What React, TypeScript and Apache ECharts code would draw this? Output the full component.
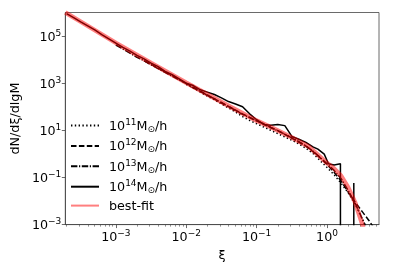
import React, { useEffect, useRef } from 'react';
import * as echarts from 'echarts';

// axis extents in log10 units
const X_MIN = -3.718;
const X_MAX = 0.738;
const Y_MIN = -3;
const Y_MAX = 6;

const xMajorExp = [-3, -2, -1, 0];
const yMajorExp = [-3, -1, 1, 3, 5];

// best-fit curve: log10(xi), log10(dN/dxi/dlgM)
const fitLogXi = [-3.718, -3.5, -3.0, -2.5, -2.0, -1.5, -1.0, -0.75, -0.5, -0.25, 0.0, 0.1, 0.2, 0.3, 0.4, 0.5, 0.56];
const fitLogN = [6.0, 5.61, 4.71, 3.86, 3.02, 2.2, 1.41, 1.07, 0.7, 0.29, -0.39, -0.62, -0.93, -1.42, -2.07, -2.98, -3.6];

// null = empty bin (zero count)
const m14LogXi = [-3.7, -3.6, -3.5, -3.4, -3.3, -3.2, -3.1, -3.0, -2.9, -2.8, -2.7, -2.6, -2.5, -2.4, -2.3, -2.2, -2.1, -2.0, -1.9, -1.8, -1.7, -1.6, -1.5, -1.4, -1.3, -1.2, -1.1, -1.0, -0.9, -0.8, -0.7, -0.6, -0.5, -0.4, -0.3, -0.2, -0.13, -0.04, 0.02, 0.1, 0.19, 0.29, 0.38, 0.47];
const m14LogN = [5.95, 5.78, 5.6, 5.43, 5.26, 5.06, 4.88, 4.7, 4.52, 4.36, 4.18, 4.03, 3.85, 3.7, 3.5, 3.36, 3.18, 3.0, 2.9, 2.72, 2.62, 2.52, 2.38, 2.22, 2.12, 2.0, 1.7, 1.45, 1.25, 1.22, 1.25, 1.2, 0.74, 0.62, 0.49, 0.3, 0.2, -0.01, -0.42, -0.47, -0.42, null, -1.23, null];

const m13LogXi = [-3.0, -2.9, -2.8, -2.7, -2.6, -2.5, -2.4, -2.3, -2.2, -2.1, -2.0, -1.9, -1.8, -1.7, -1.6, -1.5, -1.4, -1.3, -1.2, -1.1, -1.0, -0.9, -0.8, -0.7, -0.6, -0.5, -0.4, -0.3, -0.2, -0.1, 0.0, 0.1, 0.2, 0.3, 0.4, 0.5, 0.6];
const m13LogN = [4.62, 4.45, 4.28, 4.1, 3.96, 3.78, 3.62, 3.46, 3.3, 3.14, 2.98, 2.8, 2.66, 2.48, 2.34, 2.16, 2.02, 1.84, 1.68, 1.54, 1.4, 1.28, 1.12, 0.98, 0.84, 0.68, 0.52, 0.34, 0.12, -0.15, -0.42, -0.7, -1.05, -1.55, -2.1, -2.75, -3.4];

const m12LogXi = [-2.6, -2.5, -2.4, -2.3, -2.2, -2.1, -2.0, -1.9, -1.8, -1.7, -1.6, -1.5, -1.4, -1.3, -1.2, -1.1, -1.0, -0.9, -0.8, -0.7, -0.6, -0.5, -0.4, -0.3, -0.2, -0.1, 0.0, 0.1, 0.2, 0.3, 0.4, 0.5, 0.6, 0.7];
const m12LogN = [3.95, 3.8, 3.64, 3.47, 3.33, 3.15, 2.99, 2.83, 2.65, 2.5, 2.33, 2.18, 2.01, 1.86, 1.7, 1.55, 1.4, 1.26, 1.12, 0.99, 0.83, 0.67, 0.5, 0.33, 0.1, -0.16, -0.45, -0.78, -1.15, -1.62, -2.05, -2.45, -2.85, -3.3];

const m11LogXi = [-2.0, -1.9, -1.8, -1.7, -1.6, -1.5, -1.4, -1.3, -1.2, -1.1, -1.0, -0.9, -0.8, -0.7, -0.6, -0.5, -0.4, -0.3, -0.2, -0.1, 0.0, 0.1, 0.2, 0.3, 0.4, 0.5, 0.58];
const m11LogN = [2.95, 2.8, 2.62, 2.45, 2.3, 2.12, 1.95, 1.78, 1.58, 1.42, 1.28, 1.14, 1.0, 0.86, 0.72, 0.58, 0.42, 0.24, 0.02, -0.28, -0.58, -0.88, -1.25, -1.65, -2.15, -2.75, -3.3];

const seriesNames = ['m11', 'm12', 'm13', 'm14', 'fit'];
const massExp = { m11: '11', m12: '12', m13: '13', m14: '14' } as Record<string, string>;

const FONT = 'DejaVu Sans';
const FS = 12.7;
const BELOW_AXIS = -1000; // empty bins fall off the log axis

function pairs(xs: number[], ys: (number | null)[]) {
  return xs.map((x, i) => [x, ys[i] === null ? BELOW_AXIS : ys[i]]);
}

function supLabel(v: number) {
  const s = v < 0 ? '\u2212' + String(-v) : String(v);
  return '{b|10}{sup|' + s + '}';
}

const minorX: number[] = [];
for (let n = -4; n <= 0; n++) {
  for (let k = 2; k <= 9; k++) {
    const v = n + Math.log10(k);
    if (v > X_MIN && v < X_MAX) minorX.push(v);
  }
}

const richText = {
  b: { fontSize: FS, fontFamily: FONT, color: '#000', lineHeight: 16 },
  sup: { fontSize: 9, fontFamily: FONT, color: '#000', verticalAlign: 'top' as const, lineHeight: 9 },
  sub: { fontSize: 9, fontFamily: FONT, color: '#000', verticalAlign: 'bottom' as const, lineHeight: 10 },
};

const AX = '#444';

export default function App() {
  const ref = useRef<HTMLDivElement>(null);
  useEffect(() => {
    if (!ref.current) return;
    const chart = echarts.init(ref.current, null, { renderer: 'svg' });
    const black = '#000';
    const lineBase = { type: 'line' as const, symbol: 'none', showSymbol: false, clip: true, z: 2 };
    chart.setOption({
      animation: false,
      grid: { left: 59.5, right: 20, top: 12.5, bottom: 40, show: true, borderColor: AX, borderWidth: 0.8, backgroundColor: 'transparent' },
      legend: {
        orient: 'vertical',
        left: 65,
        top: 112.5,
        itemWidth: 28,
        itemHeight: 14,
        itemGap: 4.4,
        data: seriesNames,
        itemStyle: { opacity: 0, borderWidth: 0 },
        formatter: (name: string) => (name === 'fit' ? '{b|best-fit}' : '{b|10}{sup|' + massExp[name] + '}{b|M}{sub|\u2299}{b|/h}'),
        textStyle: { fontFamily: FONT, fontSize: FS, color: '#000', padding: [0, 0, 0, 5], rich: richText },
      },
      xAxis: [
        {
          type: 'value',
          min: X_MIN,
          max: X_MAX,
          position: 'bottom',
          name: '\u03be',
          nameLocation: 'middle',
          nameGap: 20,
          nameTextStyle: { fontFamily: FONT, fontSize: FS, color: '#000' },
          axisLine: { show: true, onZero: false, lineStyle: { color: AX, width: 0.8 } },
          axisTick: { show: true, length: 3.5, customValues: xMajorExp, lineStyle: { color: AX, width: 0.8 } },
          axisLabel: { customValues: xMajorExp, margin: 4, formatter: (v: number) => supLabel(Math.round(v)), rich: richText, fontFamily: FONT, fontSize: FS, color: '#000' },
          splitLine: { show: false },
        },
        {
          type: 'value',
          min: X_MIN,
          max: X_MAX,
          position: 'bottom',
          axisLine: { show: false, onZero: false },
          axisTick: { show: true, length: 2, customValues: minorX, lineStyle: { color: AX, width: 0.6 } },
          axisLabel: { show: false },
          splitLine: { show: false },
        },
      ],
      yAxis: {
        type: 'value',
        min: Y_MIN,
        max: Y_MAX,
        name: 'dN/d\u03be/dlgM',
        nameLocation: 'middle',
        nameGap: 38,
        nameTextStyle: { fontFamily: FONT, fontSize: FS, color: '#000' },
        axisLine: { show: true, onZero: false, lineStyle: { color: AX, width: 0.8 } },
        axisTick: { show: true, length: 3.5, customValues: yMajorExp, lineStyle: { color: AX, width: 0.8 } },
        axisLabel: { customValues: yMajorExp, margin: 4, formatter: (v: number) => supLabel(Math.round(v)), rich: richText, fontFamily: FONT, fontSize: FS, color: '#000' },
        splitLine: { show: false },
      },
      series: [
        { ...lineBase, name: 'm11', data: pairs(m11LogXi, m11LogN), lineStyle: { color: black, width: 1.5, type: [1.4, 2.4] }, itemStyle: { color: black } },
        { ...lineBase, name: 'm12', data: pairs(m12LogXi, m12LogN), lineStyle: { color: black, width: 1.5, type: [5.5, 2.4] }, itemStyle: { color: black } },
        { ...lineBase, name: 'm13', data: pairs(m13LogXi, m13LogN), lineStyle: { color: black, width: 1.5, type: [6.4, 1.6, 1.2, 1.6] }, itemStyle: { color: black } },
        { ...lineBase, name: 'm14', data: pairs(m14LogXi, m14LogN), lineStyle: { color: black, width: 1.5 }, itemStyle: { color: black } },
        { ...lineBase, name: 'fit', z: 3, data: pairs(fitLogXi, fitLogN), lineStyle: { color: 'rgba(255,0,0,0.5)', width: 4.5 }, itemStyle: { color: 'rgba(255,0,0,0.5)' } },
      ],
    });
    return () => chart.dispose();
  }, []);
  return <div ref={ref} style={{ position: 'fixed', left: 0, top: 0, width: 399, height: 266 }} />;
}
